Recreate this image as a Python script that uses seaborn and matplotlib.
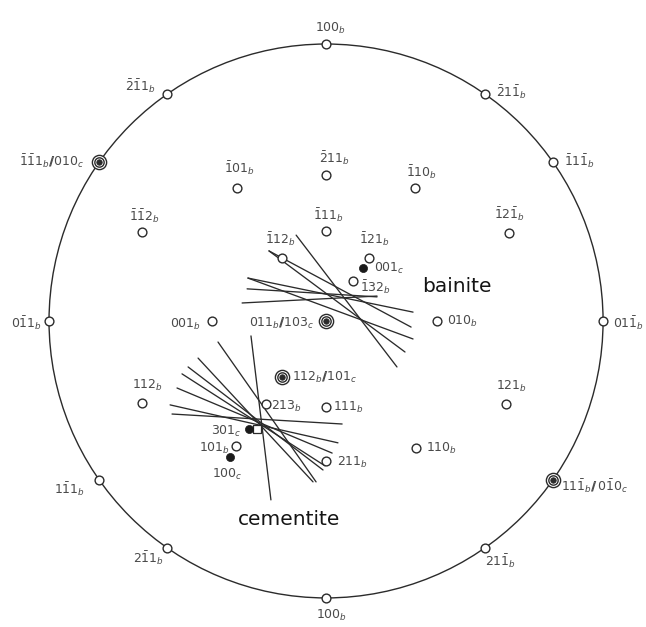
import matplotlib
matplotlib.use("Agg")
import matplotlib.pyplot as plt
import numpy as np
import pandas as pd
import seaborn as sns

# poles on the primitive circle (angle in degrees, counter-clockwise from the right)
rim_labels = [
    r"$100_b$", r"$\bar{2}\bar{1}1_b$", r"$\bar{1}\bar{1}1_b/\!\!/010_c$", r"$0\bar{1}1_b$",
    r"$1\bar{1}1_b$", r"$2\bar{1}1_b$", r"$100_b$", r"$21\bar{1}_b$",
    r"$11\bar{1}_b/\!\!/\,0\bar{1}0_c$", r"$01\bar{1}_b$", r"$\bar{1}1\bar{1}_b$", r"$\bar{2}1\bar{1}_b$",
]
rim_angles = [90, 125, 145, 180, 215, 235, 270, 305, 325, 0, 35, 55]
rim_double = [False, False, True, False, False, False, False, False, True, False, False, False]

# bainite poles inside the circle (radius of primitive = 1)
bcc_labels = [
    r"$\bar{1}01_b$", r"$\bar{2}11_b$", r"$\bar{1}10_b$", r"$\bar{1}\bar{1}2_b$", r"$\bar{1}2\bar{1}_b$",
    r"$\bar{1}11_b$", r"$\bar{1}12_b$", r"$\bar{1}21_b$", r"$\bar{1}32_b$", r"$001_b$", r"$010_b$",
    r"$112_b$", r"$121_b$", r"$111_b$", r"$213_b$", r"$211_b$", r"$110_b$", r"$101_b$",
]
bcc_x = [-0.321, 0.0, 0.321, -0.664, 0.661, 0.0, -0.159, 0.155, 0.097, -0.41, 0.40,
         -0.664, 0.650, 0.0, -0.217, 0.0, 0.325, -0.325]
bcc_y = [0.480, 0.527, 0.480, 0.321, 0.318, 0.325, 0.227, 0.227, 0.144, 0.0, 0.0,
         -0.296, -0.300, -0.310, -0.300, -0.505, -0.458, -0.451]

# coincident bainite / cementite poles
pair_labels = [r"$011_b/\!\!/103_c$", r"$112_b/\!\!/101_c$"]
pair_x = [0.0, -0.159]
pair_y = [0.0, -0.202]

# cementite poles
cem_labels = [r"$001_c$", r"$301_c$", r"$100_c$"]
cem_x = [0.134, -0.278, -0.347]
cem_y = [0.191, -0.390, -0.491]

square_x = [-0.249]
square_y = [-0.390]

# habit plane traces (start x, start y, end x, end y)
bainite_x0 = [-0.108, -0.206, -0.206, -0.282, -0.282, -0.285, -0.303]
bainite_y0 = [0.310, 0.253, 0.253, 0.155, 0.155, 0.116, 0.065]
bainite_x1 = [0.256, 0.285, 0.307, 0.314, 0.314, 0.184, 0.184]
bainite_y1 = [-0.166, -0.112, -0.022, 0.032, -0.065, 0.087, 0.090]

cementite_x0 = [-0.271, -0.390, -0.462, -0.498, -0.520, -0.538, -0.563, -0.556]
cementite_y0 = [-0.054, -0.076, -0.134, -0.166, -0.191, -0.242, -0.303, -0.336]
cementite_x1 = [-0.199, -0.036, -0.047, -0.011, -0.004, 0.022, 0.043, 0.058]
cementite_y1 = [-0.646, -0.581, -0.581, -0.538, -0.523, -0.477, -0.440, -0.372]

# label placement: (dx, dy) in points, horizontal alignment
rim_offsets = [(3, 9, "center"), (-8, 2, "right"), (-11, -3, "right"), (-5, -5, "right"),
               (-10, -10, "right"), (-2, -11, "right"), (4, -15, "center"), (0, -13, "left"),
               (6, -8, "left"), (7, -5, "left"), (8, -3, "left"), (8, -2, "left")]
bcc_offsets = [(2, 11, "center"), (6, 9, "center"), (5, 8, "center"), (2, 8, "center"),
               (0, 10, "center"), (2, 8, "center"), (-1, 10, "center"), (4, 10, "center"),
               (5, -8, "left"), (-8, -5, "right"), (7, -3, "left"), (4, 10, "center"),
               (4, 10, "center"), (5, -3, "left"), (4, -4, "left"), (8, -4, "left"),
               (7, -3, "left"), (-4, -4, "right")]
pair_offsets = [(-9, -4, "right"), (7, -3, "left")]
cem_offsets = [(8, -3, "left"), (-5, -4, "right"), (-2, -15, "center")]

sns.set_theme(style="white")
plt.rcParams["mathtext.fontset"] = "dejavusans"
plt.rcParams["font.family"] = ["DejaVu Sans"]

ink = "#2b2b2b"
label_col = "#4a4a4a"

fig = plt.figure(figsize=(6.46, 6.27), dpi=100)
ax = fig.add_axes([0, 0, 1, 1])
ax.set_xlim(-1.177, 1.155)
ax.set_ylim(-1.105, 1.159)
ax.axis("off")

ax.add_patch(plt.Circle((0, 0), 1.0, fill=False, lw=1.0, ec=ink, zorder=1))


def trace_frame(x0, y0, x1, y1, name):
    rows = []
    for i in range(len(x0)):
        rows.append({"line": f"{name}{i}", "x": x0[i], "y": y0[i]})
        rows.append({"line": f"{name}{i}", "x": x1[i], "y": y1[i]})
    return pd.DataFrame(rows)


traces = pd.concat([
    trace_frame(bainite_x0, bainite_y0, bainite_x1, bainite_y1, "b"),
    trace_frame(cementite_x0, cementite_y0, cementite_x1, cementite_y1, "c"),
])
sns.lineplot(data=traces, x="x", y="y", units="line", estimator=None, sort=False,
             color=ink, lw=0.95, ax=ax, zorder=2, legend=False)

rim_x = list(np.cos(np.radians(rim_angles)))
rim_y = list(np.sin(np.radians(rim_angles)))

single_x = [x for x, d in zip(rim_x, rim_double) if not d] + bcc_x
single_y = [y for y, d in zip(rim_y, rim_double) if not d] + bcc_y
dbl_x = [x for x, d in zip(rim_x, rim_double) if d] + pair_x
dbl_y = [y for y, d in zip(rim_y, rim_double) if d] + pair_y

# open circles
sns.scatterplot(x=single_x, y=single_y, s=40, color="white", edgecolor=ink,
                linewidth=1.0, zorder=4, ax=ax)
# double circles with filled centre
sns.scatterplot(x=dbl_x, y=dbl_y, s=105, color="white", edgecolor=ink,
                linewidth=1.0, zorder=4, ax=ax)
sns.scatterplot(x=dbl_x, y=dbl_y, s=45, color="white", edgecolor=ink,
                linewidth=1.0, zorder=5, ax=ax)
sns.scatterplot(x=dbl_x, y=dbl_y, s=16, color=ink, edgecolor=ink,
                linewidth=0.5, zorder=6, ax=ax)
# cementite poles
sns.scatterplot(x=cem_x, y=cem_y, s=34, color="#1a1a1a", edgecolor="#1a1a1a",
                linewidth=0.5, zorder=5, ax=ax)
sns.scatterplot(x=square_x, y=square_y, s=30, marker="s", color="white",
                edgecolor=ink, linewidth=0.9, zorder=4, ax=ax)


def put_labels(labels, xs, ys, offsets):
    for lab, x, y, (dx, dy, ha) in zip(labels, xs, ys, offsets):
        ax.annotate(lab, (x, y), xytext=(dx, dy), textcoords="offset points",
                    ha=ha, va="baseline", fontsize=9, color=label_col, zorder=7)


put_labels(rim_labels, rim_x, rim_y, rim_offsets)
put_labels(bcc_labels, bcc_x, bcc_y, bcc_offsets)
put_labels(pair_labels, pair_x, pair_y, pair_offsets)
put_labels(cem_labels, cem_x, cem_y, cem_offsets)

ax.text(0.473, 0.123, "bainite", fontsize=14.5, color="#151515", ha="center", va="center")
ax.text(-0.134, -0.718, "cementite", fontsize=14.5, color="#151515", ha="center", va="center")

fig.savefig("out.png", dpi=100, facecolor="white")
